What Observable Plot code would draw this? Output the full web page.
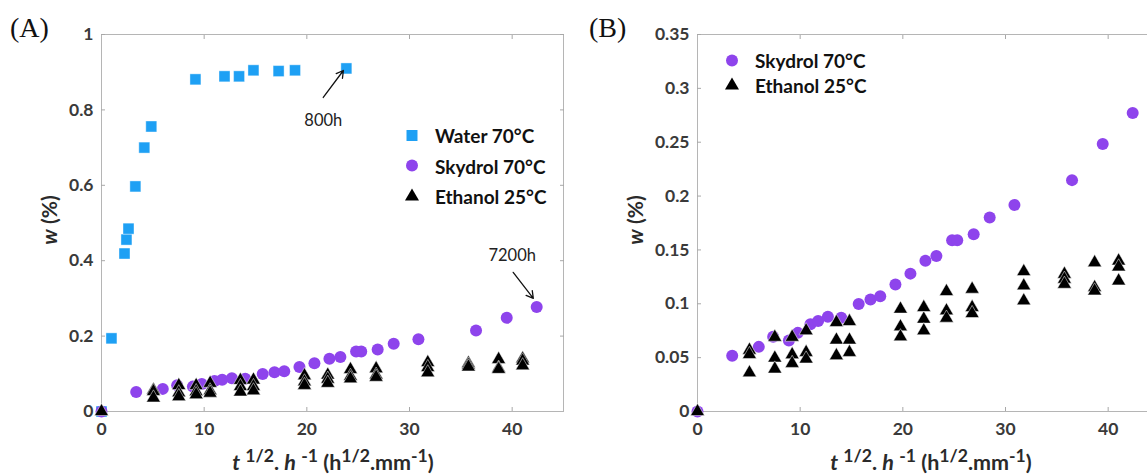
<!DOCTYPE html>
<html><head><meta charset="utf-8">
<script src="https://cdn.jsdelivr.net/npm/d3@7"></script>
<script src="https://cdn.jsdelivr.net/npm/@observablehq/plot@0.6"></script>
<style>
body{margin:0;background:#fff;overflow:hidden}
#wrap{position:relative;width:1147px;height:476px;overflow:hidden;font-family:Lato,"Open Sans",sans-serif}
.abs{position:absolute}
.panel{font-family:"Liberation Serif","DejaVu Serif",serif;font-size:28px;color:#111;line-height:1}
.ylab{font-weight:bold;font-size:21px;color:#2a2a2a;transform:translate(-50%,-50%) rotate(-90deg);white-space:nowrap}
.xlab{font-weight:bold;font-size:21.5px;color:#2a2a2a;transform:translate(-50%,-50%);white-space:nowrap}
.xlab sup{font-size:0.82em;vertical-align:0.45em;line-height:0}
.leg{font-weight:bold;font-size:19px;color:#111;white-space:nowrap;line-height:1}
.leg div{display:flex;align-items:center;position:absolute;transform:translateY(-50%)}
</style></head><body><div id="wrap"></div>
<script>
// ---- data ----
const waterX = [0, 0.97, 2.24, 2.43, 2.63, 3.3, 4.17, 4.85, 9.15, 11.98, 13.4, 14.8, 17.25, 18.85, 23.85];
const waterY = [0, 0.194, 0.419, 0.456, 0.485, 0.597, 0.70, 0.756, 0.881, 0.889, 0.889, 0.905, 0.903, 0.905, 0.91];

const skydrolX = [0, 3.38, 5.97, 7.37, 8.9, 9.77, 11.0, 11.75, 12.7, 14.0, 15.7, 16.85, 17.8, 19.28, 20.74, 22.2, 23.27, 24.8, 25.3, 26.9, 28.46, 30.87, 36.48, 39.47, 42.39];
const skydrolY = [0, 0.0518, 0.060, 0.0694, 0.066, 0.073, 0.081, 0.084, 0.088, 0.087, 0.0997, 0.104, 0.107, 0.118, 0.128, 0.140, 0.1444, 0.159, 0.159, 0.1645, 0.180, 0.1917, 0.2148, 0.2484, 0.2771];

const ethanolX = [0,
  5.06, 5.06, 5.06, 7.53, 7.53, 7.53, 9.22, 9.22, 9.22, 10.58, 10.58, 10.58,
  13.53, 13.53, 13.53, 14.8, 14.8, 14.8, 19.77, 19.77, 19.77, 22.04, 22.04, 22.04,
  24.25, 24.25, 24.25, 26.75, 26.75, 26.75, 31.78, 31.78, 31.78, 35.74, 35.74, 35.74,
  38.68, 38.68, 38.68, 41.02, 41.02, 41.02];
const ethanolY = [0,
  0.057, 0.053, 0.036, 0.069, 0.0497, 0.0395, 0.069, 0.0528, 0.0447, 0.075, 0.0549, 0.0488,
  0.0827, 0.0664, 0.0519, 0.0836, 0.0664, 0.0549, 0.0951, 0.0787, 0.0694, 0.0966, 0.0858, 0.075,
  0.1114, 0.0935, 0.0867, 0.1136, 0.0966, 0.091, 0.1299, 0.1167, 0.1028, 0.1275, 0.1229, 0.1182,
  0.1382, 0.1151, 0.112, 0.1398, 0.1343, 0.1213];

const xTicks = [0, 10, 20, 30, 40];
const yTicksA = [0, 0.2, 0.4, 0.6, 0.8, 1];
const yTicksB = [0, 0.05, 0.1, 0.15, 0.2, 0.25, 0.3, 0.35];

const seriesNames = ["Water 70°C", "Skydrol 70°C", "Ethanol 25°C"];
const seriesColors = ["#1ea0f4", "#8e44ec", "#000000"];

// annotations (panel A): label text and arrows in data units
const annLabels = [{x: 21.6, y: 0.772, text: "800h"}, {x: 40.0, y: 0.414, text: "7200h"}];
const annArrows = [{x1: 21.6, y1: 0.833, x2: 23.56, y2: 0.9045}, {x1: 40.1, y1: 0.369, x2: 42.06, y2: 0.30}];

const water = waterX.map((x, i) => ({x, y: waterY[i]}));
const skydrol = skydrolX.map((x, i) => ({x, y: skydrolY[i]}));
const ethanol = ethanolX.map((x, i) => ({x, y: ethanolY[i]}));

const wrap = document.getElementById("wrap");
const fmt = (d) => String(+(+d).toFixed(2));

function axes(yTicks) {
  const c = {stroke: "#a8a8a8", fill: "#3a3a3a", label: null};
  return [
    Plot.frame({stroke: "#b5b5b5"}),
    Plot.axisX({...c, ticks: xTicks, tickSize: -4, tickPadding: 15, tickFormat: fmt}),
    Plot.axisX({...c, anchor: "top", ticks: xTicks.slice(1), tickSize: -4, tickFormat: () => ""}),
    Plot.axisY({...c, ticks: yTicks, tickSize: -4, tickPadding: 12, tickFormat: fmt}),
    Plot.axisY({...c, anchor: "right", ticks: yTicks.slice(1), tickSize: -4, tickFormat: () => ""})
  ];
}
const dotW = (d) => Plot.dot(d, {x: "x", y: "y", symbol: "square", r: 6.2, fill: seriesColors[0], stroke: "white", strokeWidth: 0.4});
const dotS = (d) => Plot.dot(d, {x: "x", y: "y", symbol: "circle", r: 6, fill: seriesColors[1]});
const dotE = (d) => Plot.dot(d, {x: "x", y: "y", symbol: "triangle", r: 5.2, fill: seriesColors[2], stroke: "white", strokeWidth: 0.5});

const style = {fontFamily: "Lato, 'Open Sans', sans-serif", fontSize: "17.5px", fontWeight: "bold", background: "transparent", overflow: "visible"};

const plotA = Plot.plot({
  width: 580, height: 476,
  marginLeft: 101, marginTop: 34, marginRight: 17, marginBottom: 65,
  x: {domain: [0, 45], label: null},
  y: {domain: [0, 1], label: null},
  style,
  marks: [
    ...axes(yTicksA),
    dotW(water), dotS(skydrol), dotE(ethanol),
    Plot.arrow(annArrows, {x1: "x1", y1: "y1", x2: "x2", y2: "y2", stroke: "#111", strokeWidth: 1.3, headLength: 9}),
    Plot.text(annLabels, {x: "x", y: "y", text: "text", fontWeight: "normal", fontSize: 16.5, fill: "#222"})
  ]
});
plotA.style.position = "absolute"; plotA.style.left = "0px"; plotA.style.top = "0px";
wrap.appendChild(plotA);

const plotB = Plot.plot({
  width: 596, height: 476,
  marginLeft: 117, marginTop: 34, marginRight: 17, marginBottom: 65,
  x: {domain: [0, 45], label: null},
  y: {domain: [0, 0.35], label: null},
  style,
  marks: [
    ...axes(yTicksB),
    dotS(skydrol), dotE(ethanol)
  ]
});
plotB.style.position = "absolute"; plotB.style.left = "580px"; plotB.style.top = "0px";
wrap.appendChild(plotB);

// ---- html texts ----
function add(html, cls, css) {
  const d = document.createElement("div");
  d.className = "abs " + cls;
  d.innerHTML = html;
  Object.assign(d.style, css);
  wrap.appendChild(d);
  return d;
}
add("(A)", "panel", {left: "10px", top: "14px"});
add("(B)", "panel", {left: "589px", top: "14px"});
add("<i>w</i> (%)", "ylab", {left: "48px", top: "220px"});
add("<i>w</i> (%)", "ylab", {left: "634px", top: "220px"});
const xl = "<i>t</i> <sup>1/2</sup>. <i>h</i> <sup>-1</sup> (h<sup>1/2</sup>.mm<sup>-1</sup>)";
add(xl, "xlab", {left: "333px", top: "462px"});
add(xl, "xlab", {left: "931px", top: "462px"});

function marker(i) {
  const s = 16;
  const path = d3.symbol(i === 0 ? d3.symbolSquare : i === 1 ? d3.symbolCircle : d3.symbolTriangle, i === 0 ? Math.PI * 6.2 * 6.2 : i === 1 ? Math.PI * 36 : Math.PI * 5.2 * 5.2)();
  return `<svg width="${s}" height="${s}" style="margin-right:15px;overflow:visible"><path transform="translate(${s/2},${s/2})" d="${path}" fill="${seriesColors[i]}"/></svg>`;
}
function legend(indices, left, top, gap) {
  const box = add("", "leg", {left: left + "px", top: top + "px"});
  indices.forEach((i, k) => {
    const r = document.createElement("div");
    r.style.left = "0px"; r.style.top = (k * gap) + "px";
    r.innerHTML = marker(i) + "<span>" + seriesNames[i] + "</span>";
    box.appendChild(r);
  });
}
legend([0, 1, 2], 404, 135, 30.5);
legend([1, 2], 724, 60, 25);
</script></body></html>
